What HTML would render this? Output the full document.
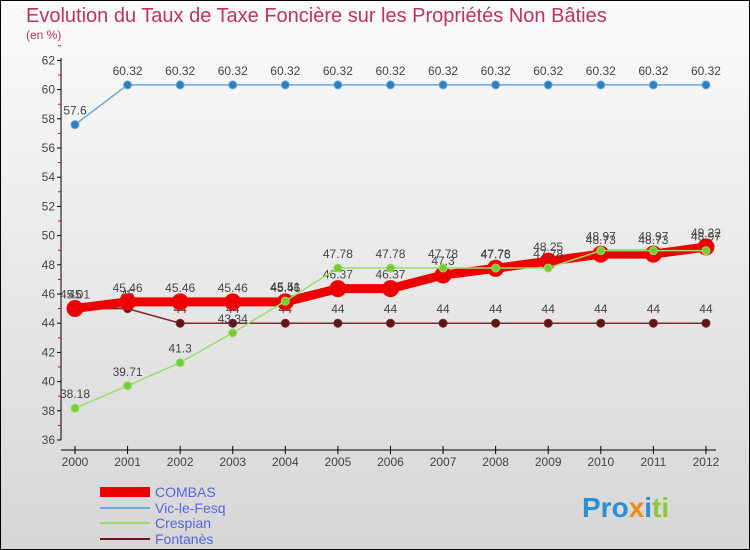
<!DOCTYPE html>
<html><head><meta charset="utf-8"><style>
body{margin:0;width:750px;height:550px;overflow:hidden;font-family:"Liberation Sans",sans-serif}
#c{position:absolute;left:0;top:0;width:748px;height:548px;border:1px solid #000;background:linear-gradient(#fbfbfb,#d6d6d6)}
</style></head><body>
<div id="c">
<svg id="s" width="750" height="550" style="position:absolute;left:-1px;top:-1px">
<text x="26" y="22" font-size="20" fill="#c0315f">Evolution du Taux de Taxe Foncière sur les Propriétés Non Bâties</text>
<text x="26" y="39" font-size="12" fill="#c0315f">(en %)</text>
<g id="axes"></g><g id="series"></g>
<g>
<rect x="100" y="487" width="50" height="10" fill="#e00"/>
<text x="155" y="497" font-size="14" fill="#5566dd">COMBAS</text>
<line x1="100" y1="508" x2="150" y2="508" stroke="#6fa8dc" stroke-width="2"/>
<text x="155" y="513" font-size="14" fill="#5566dd">Vic-le-Fesq</text>
<line x1="100" y1="523" x2="150" y2="523" stroke="#99dd66" stroke-width="2"/>
<text x="155" y="528" font-size="14" fill="#5566dd">Crespian</text>
<line x1="100" y1="539" x2="150" y2="539" stroke="#6b1a1a" stroke-width="2"/>
<text x="155" y="544" font-size="14" fill="#5566dd">Fontanès</text>
</g>
<text x="582" y="517" font-size="28" font-weight="bold"><tspan fill="#2b8fd6">Pro</tspan><tspan fill="#f08a1c">x</tspan><tspan fill="#2b8fd6">i</tspan><tspan fill="#8cc63f">ti</tspan></text>
</svg></div>
<script>
const years=["2000","2001","2002","2003","2004","2005","2006","2007","2008","2009","2010","2011","2012"];
const yTicks=[36,38,40,42,44,46,48,50,52,54,56,58,60,62];
const combas=[45.01,45.46,45.46,45.46,45.46,46.37,46.37,47.3,47.76,48.25,48.73,48.73,49.22];
const vic=[57.6,60.32,60.32,60.32,60.32,60.32,60.32,60.32,60.32,60.32,60.32,60.32,60.32];
const crespian=[38.18,39.71,41.3,43.34,45.51,47.78,47.78,47.78,47.78,47.78,48.97,48.97,48.97];
const fontanes=[45,45,44,44,44,44,44,44,44,44,44,44,44];
const NS="http://www.w3.org/2000/svg";
const X=i=>75+i*52.58, Y=v=>440-(v-36)*14.6;
function mk(t,a,p){const e=document.createElementNS(NS,t);for(const k in a)e.setAttribute(k,a[k]);p.appendChild(e);return e;}
const ax=document.getElementById('axes'),sr=document.getElementById('series');
let l=mk('line',{x1:61,y1:58,x2:61,y2:440,stroke:'#000'},ax);


l=mk('line',{x1:61,y1:450,x2:716,y2:450,stroke:'#000'},ax);


yTicks.forEach(v=>{mk('line',{x1:57,y1:Y(v),x2:61,y2:Y(v),stroke:'#000'},ax);
 mk('line',{x1:58,y1:Y(v+1),x2:61,y2:Y(v+1),stroke:'#e00'},ax);
 const t=mk('text',{x:55,y:Y(v)+4,'font-size':12,'text-anchor':'end',fill:'#444'},ax);t.textContent=v;
 
 });
years.forEach((y,i)=>{mk('line',{x1:X(i),y1:446,x2:X(i),y2:454,stroke:'#000'},ax);
 const t=mk('text',{x:X(i),y:466,'font-size':12,'text-anchor':'middle',fill:'#444'},ax);t.textContent=y;
 
 });
function draw(d,name,col,w,r,dot,lab){
 const p=mk('polyline',{points:d.map((v,i)=>X(i)+','+Y(v)).join(' '),fill:'none',stroke:col,'stroke-width':w},sr);
 
 
 d.forEach((v,i)=>{const c=mk('circle',{cx:X(i),cy:Y(v),r:r,fill:dot,stroke:col,'stroke-width':1},sr);
  
  
  const t=mk('text',{x:X(i),y:Y(v)-10,'font-size':12,'text-anchor':'middle',fill:'#444'},sr);t.textContent=v;
  
  });}
draw(vic,'vic','#6fa8dc',1.5,4,'#2e7fc0');
draw(fontanes,'fontanes','#7a2a2a',1.5,4,'#5c1515');
draw(combas,'combas','#e00',9,8,'#e00');
draw(crespian,'crespian','#99dd66',1.5,4,'#77cc33');
</script></body></html>
